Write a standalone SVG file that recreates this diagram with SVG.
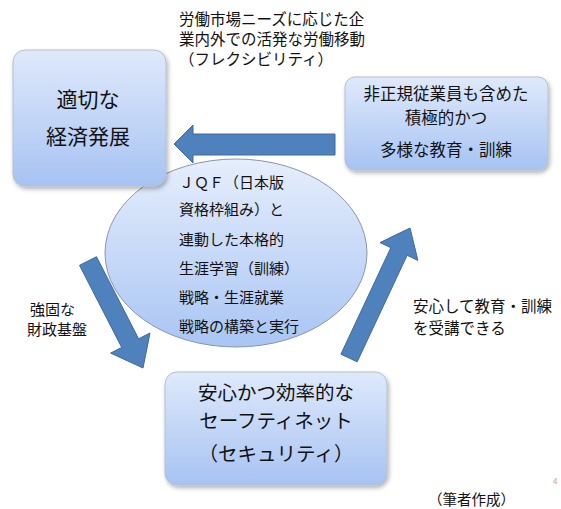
<svg xmlns="http://www.w3.org/2000/svg" width="561" height="509" viewBox="0 0 561 509">
<defs>
<linearGradient id="boxGrad" x1="0" y1="0" x2="0" y2="1">
<stop offset="0" stop-color="#dfe9fb"/>
<stop offset="1" stop-color="#a7c3f3"/>
</linearGradient>
<linearGradient id="ellGrad" x1="0" y1="0" x2="0" y2="1">
<stop offset="0" stop-color="#e6eefc"/>
<stop offset="1" stop-color="#a9c5f4"/>
</linearGradient>
<filter id="shadow" x="-10%" y="-10%" width="125%" height="130%">
<feDropShadow dx="1.5" dy="2.5" stdDeviation="2" flood-color="#000" flood-opacity="0.3"/>
</filter>
</defs>
<style>
.box{fill:url(#boxGrad);stroke:#b4bfcf;stroke-width:1;filter:url(#shadow);}
.ell{fill:url(#ellGrad);stroke:#8a96a8;stroke-width:1;}
.arrow{fill:#4f81bd;stroke:#3d6a9e;stroke-width:1;}
text{font-family:"Noto Sans CJK JP","Noto Sans CJK SC",sans-serif;fill:#111;}
.c{text-anchor:middle;}
</style>
<rect width="561" height="509" fill="#fff"/>
<g id="title-label">
<text x="179" y="25" font-size="15.5">労働市場ニーズに応じた企</text>
<text x="179" y="45" font-size="15.5">業内外での活発な労働移動</text>
<text x="179" y="65" font-size="15.5">（フレクシビリティ）</text>
</g>
<g id="center-ellipse">
<ellipse class="ell" cx="236" cy="253" rx="131" ry="94"/>
<text x="179" y="188" font-size="15">ＪＱＦ（日本版</text>
<text x="179" y="215" font-size="15">資格枠組み）と</text>
<text x="179" y="245" font-size="15">連動した本格的</text>
<text x="179" y="274" font-size="15">生涯学習（訓練）</text>
<text x="179" y="303" font-size="15">戦略・生涯就業</text>
<text x="179" y="332" font-size="15">戦略の構築と実行</text>
</g>
<g id="node-economy">
<rect class="box" x="13" y="50" width="153" height="136" rx="12"/>
<text class="c" x="88" y="107" font-size="21">適切な</text>
<text class="c" x="88" y="144" font-size="21">経済発展</text>
</g>
<g id="node-education">
<rect class="box" x="345" y="77" width="203" height="93" rx="10"/>
<text class="c" x="446" y="100" font-size="16.5">非正規従業員も含めた</text>
<text class="c" x="446" y="124" font-size="16.5">積極的かつ</text>
<text class="c" x="446" y="156" font-size="16.5">多様な教育・訓練</text>
</g>
<g id="node-safetynet">
<rect class="box" x="165" y="372" width="222" height="113" rx="12"/>
<text class="c" x="276" y="400" font-size="19.5">安心かつ効率的な</text>
<text class="c" x="276" y="428" font-size="19.5">セーフティネット</text>
<text class="c" x="276" y="461" font-size="19.5">（セキュリティ）</text>
</g>
<g id="connectors">
<path class="arrow" d="M335,134 L193,134 L193,125 L174,144 L193,163 L193,155 L335,155 Z"/>
<path class="arrow" d="M79.5,265.3 L96.5,256.7 L138.6,338.8 L150,333 L143,368 L110.6,353.1 L121.7,347.4 Z"/>
<path class="arrow" d="M357.2,361.8 L340.9,354.2 L390.8,247.7 L380,242.6 L410,228 L417.9,260.4 L407.1,255.3 Z"/>
</g>
<g id="edge-labels">
<text x="30" y="315" font-size="15">強固な</text>
<text x="27" y="335" font-size="15">財政基盤</text>
<text x="413" y="312" font-size="15.5">安心して教育・訓練</text>
<text x="413" y="334" font-size="15.5">を受講できる</text>
</g>
<g id="footer">
<text x="428" y="505" font-size="14.5">（筆者作成）</text>
<text x="553" y="484" font-size="8" style="fill:#c8a878">4</text>
</g>
</svg>
